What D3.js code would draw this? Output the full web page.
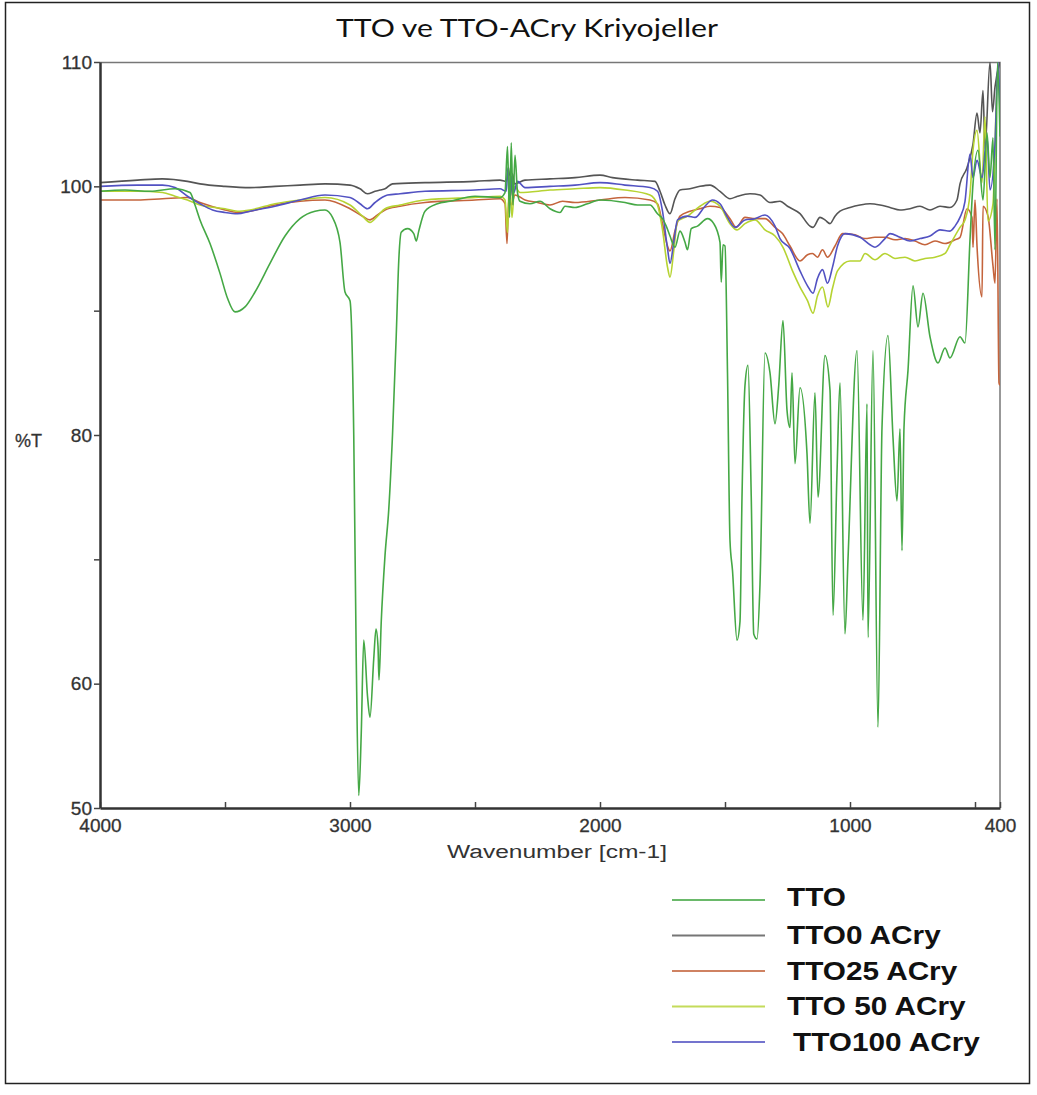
<!DOCTYPE html>
<html>
<head>
<meta charset="utf-8">
<script src="https://cdn.jsdelivr.net/npm/d3@7"></script>
<style>
  body { margin: 0; background: white; }
  #chart { width: 1037px; height: 1095px; }
</style>
</head>
<body>
<div id="chart"></div>
<script>
// spectra, [wavenumber cm-1, %T]
const tto_data = [
  [4000, 99.6], [3900, 99.7], [3800, 99.6], [3700, 99.8], [3640, 99.5], [3620, 98.5], [3600, 97.3],
  [3560, 95.4], [3520, 93], [3490, 91], [3460, 89.9], [3420, 90.3], [3380, 91.5], [3320, 93.8],
  [3260, 96], [3200, 97.4], [3140, 98], [3100, 98.1], [3070, 97.5], [3040, 95.5], [3020, 91.5],
  [3000, 90.8], [2985, 80], [2975, 62], [2965, 51], [2955, 56], [2945, 63.5], [2930, 59],
  [2920, 57.3], [2905, 62], [2896, 64.4], [2888, 63], [2884, 60.3], [2875, 65], [2860, 70.3],
  [2845, 74], [2830, 80], [2815, 88], [2805, 94], [2795, 96.3], [2770, 96.6], [2745, 96.2],
  [2735, 95.6], [2725, 96.4], [2700, 98], [2650, 98.6], [2600, 98.8], [2500, 99.2], [2400, 99.1],
  [2380, 99.5], [2370, 103.2], [2362, 97.5], [2355, 103.5], [2348, 98.5], [2340, 102.5], [2330, 99.5],
  [2320, 98.8], [2280, 98.6], [2240, 98.8], [2200, 98.2], [2160, 97.9], [2140, 98.4], [2100, 98.3],
  [2050, 98.6], [2000, 98.9], [1900, 98.7], [1850, 98.5], [1800, 98.5], [1770, 97.8], [1750, 97.4],
  [1735, 96.8], [1720, 96], [1700, 95.1], [1680, 96.4], [1660, 95.5], [1650, 94.9], [1635, 96.6],
  [1610, 96.8], [1570, 97.4], [1545, 97], [1520, 95.5], [1515, 92.3], [1508, 95.3], [1500, 95.2],
  [1490, 85], [1480, 71.5], [1470, 69.1], [1452, 63.5], [1440, 65], [1432, 75], [1420, 84],
  [1408, 85.6], [1395, 75], [1385, 64], [1372, 63.6], [1360, 68], [1340, 86.6], [1320, 85],
  [1300, 80.9], [1285, 84], [1268, 89.2], [1252, 82], [1240, 80.6], [1232, 85], [1220, 77.7],
  [1200, 83.8], [1172, 78.5], [1160, 72.9], [1140, 83.4], [1128, 75], [1100, 86.4], [1080, 83.6],
  [1068, 65.5], [1052, 77], [1040, 84.2], [1020, 64], [1008, 70], [972, 86.8], [948, 65.1],
  [932, 82.5], [928, 63.7], [908, 86.8], [888, 56.5], [872, 80.6], [848, 88], [828, 79.8],
  [812, 74.7], [800, 80.5], [792, 70.7], [784, 80.6], [768, 85.2], [748, 92], [728, 88.7],
  [708, 91.4], [680, 87.9], [648, 85.8], [620, 87], [600, 86.2], [560, 87.9], [540, 87.4],
  [520, 95.7], [508, 100.2], [488, 102.9], [468, 98.9], [452, 104.3], [440, 100.7], [428, 103.9],
  [420, 94.9], [410, 110], [400, 104]
];

const tto0_data = [
  [4000, 100.3], [3850, 100.5], [3750, 100.6], [3650, 100.4], [3600, 100.2], [3500, 100], [3400, 99.9],
  [3300, 100], [3200, 100.1], [3100, 100.2], [3000, 100.1], [2960, 99.8], [2930, 99.4], [2900, 99.6],
  [2880, 99.7], [2860, 99.8], [2830, 100.2], [2700, 100.3], [2500, 100.4], [2400, 100.5], [2375, 100.4],
  [2365, 101.5], [2358, 99.2], [2350, 101], [2342, 100.2], [2300, 100.5], [2200, 100.6], [2100, 100.7],
  [2000, 100.9], [1950, 100.7], [1850, 100.5], [1780, 100.4], [1760, 99.6], [1740, 98.5], [1720, 97.8],
  [1700, 99], [1680, 99.7], [1640, 99.8], [1600, 100], [1560, 100.1], [1520, 99.6], [1480, 99],
  [1450, 99.2], [1400, 99.4], [1360, 99.3], [1320, 98.7], [1280, 98.8], [1250, 98.4], [1200, 97.8],
  [1160, 96.8], [1148, 96.7], [1120, 97.5], [1100, 97.3], [1080, 97], [1060, 97.6], [1040, 98],
  [1000, 98.3], [960, 98.5], [920, 98.6], [880, 98.5], [840, 98.3], [800, 98.1], [760, 98.2],
  [720, 98.4], [680, 98.1], [640, 98.4], [600, 98.3], [572, 98.9], [560, 100.2], [532, 101.5],
  [508, 103.4], [492, 105.9], [480, 104.3], [468, 107.7], [460, 103], [440, 110], [430, 106],
  [420, 108], [400, 110]
];

const tto25_data = [
  [4000, 98.9], [3850, 98.9], [3750, 99], [3650, 99.1], [3600, 98.7], [3500, 98.1], [3450, 97.9],
  [3400, 98], [3300, 98.5], [3200, 98.8], [3100, 98.9], [3000, 98.2], [2950, 97.6], [2920, 97.3],
  [2890, 97.7], [2860, 98.1], [2800, 98.4], [2700, 98.7], [2500, 98.9], [2400, 99], [2380, 98.6],
  [2372, 95.4], [2365, 99], [2355, 98.5], [2340, 99.3], [2300, 98.9], [2250, 98.7], [2200, 98.5],
  [2150, 98.8], [2100, 98.7], [2000, 98.9], [1900, 99.1], [1800, 98.9], [1770, 98.6], [1750, 97],
  [1730, 95.2], [1720, 94.8], [1700, 96.4], [1680, 97.6], [1640, 98], [1600, 98.2], [1560, 98.4],
  [1520, 98.3], [1480, 97.4], [1455, 96.7], [1420, 97.5], [1380, 97.4], [1340, 97.4], [1300, 96.7],
  [1270, 96.2], [1240, 95.2], [1200, 94], [1170, 94.5], [1150, 94.6], [1130, 94.3], [1110, 94.9],
  [1090, 94.3], [1060, 95.2], [1030, 96.2], [980, 96.1], [940, 95.8], [900, 95.9], [860, 95.9],
  [820, 95.7], [780, 95.8], [740, 95.6], [700, 95.3], [660, 95.6], [620, 95.4], [580, 95.7],
  [560, 95.9], [532, 98.2], [512, 97.5], [508, 95.1], [500, 98.9], [492, 95.2], [472, 91.1],
  [468, 98.4], [448, 97.6], [428, 93.6], [420, 92.2], [412, 99], [404, 84.2], [400, 84]
];

const tto50_data = [
  [4000, 99.6], [3850, 99.6], [3750, 99.5], [3700, 99.2], [3650, 98.9], [3600, 98.5], [3500, 98.2],
  [3450, 98], [3400, 98.1], [3300, 98.6], [3200, 98.9], [3100, 99.1], [3000, 98.5], [2950, 97.6],
  [2920, 97.1], [2890, 97.6], [2860, 98.2], [2800, 98.5], [2700, 98.9], [2500, 99.1], [2400, 99.2],
  [2380, 98.9], [2370, 96.3], [2362, 100.8], [2352, 97.5], [2342, 100], [2320, 99.5], [2200, 99.7],
  [2100, 99.8], [2000, 99.9], [1900, 99.7], [1800, 99.3], [1770, 98.5], [1750, 96.5], [1730, 93.5],
  [1720, 92.7], [1705, 94.8], [1690, 97.2], [1650, 97.6], [1600, 98.4], [1560, 98.8], [1520, 98.4],
  [1480, 97], [1452, 96.5], [1420, 97], [1380, 97.3], [1340, 96.5], [1300, 96], [1268, 95.1],
  [1230, 93.2], [1200, 91.9], [1170, 90.8], [1148, 89.8], [1130, 91.2], [1110, 91.9], [1088, 90.3],
  [1070, 91.8], [1050, 93.2], [1000, 94], [960, 94], [940, 94.6], [900, 94.1], [860, 94.6],
  [820, 94.2], [780, 94.3], [740, 94], [700, 94.2], [660, 94.3], [620, 94.6], [600, 95.3],
  [560, 96.7], [540, 97.3], [520, 99.4], [508, 102.9], [492, 104.5], [472, 100.3], [460, 105.6],
  [448, 97.2], [428, 98.6], [410, 108.8], [400, 107]
];

const tto100_data = [
  [4000, 100], [3850, 100.1], [3750, 100.1], [3700, 99.9], [3650, 99.2], [3600, 98.6], [3550, 98.1],
  [3500, 97.9], [3450, 97.8], [3400, 98], [3300, 98.4], [3200, 98.9], [3100, 99.3], [3000, 99.1],
  [2960, 98.6], [2930, 98.2], [2900, 98.7], [2880, 99], [2850, 99.3], [2800, 99.4], [2700, 99.6],
  [2500, 99.7], [2400, 99.8], [2375, 99.6], [2368, 101.5], [2360, 99], [2352, 100.8], [2345, 99.5],
  [2330, 100.4], [2300, 99.9], [2200, 100], [2100, 100.1], [2000, 100.3], [1900, 100.1], [1800, 99.9],
  [1770, 99.6], [1750, 98], [1730, 95], [1720, 93.8], [1705, 95.5], [1690, 97.3], [1650, 97.6],
  [1620, 97.5], [1580, 98.4], [1550, 98.9], [1520, 98.6], [1490, 97.5], [1460, 96.7], [1420, 97.3],
  [1380, 97.4], [1340, 97.7], [1300, 96.8], [1280, 95.8], [1240, 95], [1200, 93.2], [1170, 92],
  [1148, 91.4], [1130, 92.6], [1110, 93.3], [1090, 92.2], [1070, 93.5], [1050, 95.2], [1020, 96.2],
  [960, 95.9], [920, 95.3], [900, 95.1], [860, 95.8], [840, 96.2], [800, 95.9], [760, 95.6],
  [720, 95.8], [680, 96], [640, 96.5], [600, 96.4], [580, 96.8], [560, 97.5], [540, 98.8],
  [520, 102.6], [508, 100.7], [492, 102.1], [472, 100.7], [452, 104], [440, 99.7], [420, 103.4],
  [408, 110], [400, 106]
];

const series_names = ["TTO", "TTO0 ACry", "TTO25 ACry", "TTO 50 ACry", "TTO100 ACry"];
const series_colors = ["#45a845", "#555555", "#c4643c", "#b6d332", "#5252c2"];
const x_tick_values = [4000, 3500, 3000, 2500, 2000, 1500, 1000, 500, 400];
const x_tick_labels = [4000, 3000, 2000, 1000, 400];
const y_tick_values = [50, 60, 70, 80, 90, 100, 110];
const y_tick_labels = [50, 60, 80, 100, 110];

class ftir_chart {

  constructor(container, series, labels) {
    const width = 1037, height = 1095;
    const margin = {top: 62, right: 37, bottom: 287, left: 100};
    const plot_w = width - margin.left - margin.right;
    const plot_h = height - margin.top - margin.bottom;

    const svg = d3.select(container).append("svg")
      .attr("width", width)
      .attr("height", height)
    ;

    svg.append("rect")
      .attr("width", "100%")
      .attr("height", "100%")
      .attr("fill", "white")
    ;

    // outer border of the picture
    svg.append("rect")
      .attr("x", 5.5)
      .attr("y", 2.5)
      .attr("width", 1024)
      .attr("height", 1081)
      .attr("fill", "none")
      .attr("stroke", "#222")
      .attr("stroke-width", 1.5)
    ;

    svg.append("text")
      .attr("x", 527)
      .attr("y", 37)
      .attr("text-anchor", "middle")
      .attr("font-family", "Lato, 'Open Sans', sans-serif")
      .attr("font-size", 25)
      .attr("textLength", 382)
      .attr("lengthAdjust", "spacingAndGlyphs")
      .attr("fill", "#111")
      .text(labels.title)
    ;

    const x = d3.scaleLinear().domain([4000, 400]).range([0, plot_w]);
    const y = d3.scaleLinear().domain([50, 110]).range([plot_h, 0]);

    const g = svg.append("g")
      .attr("transform", "translate(" + margin.left + "," + margin.top + ")")
    ;

    svg.append("defs").append("clipPath")
      .attr("id", "plot_clip")
      .append("rect")
      .attr("width", plot_w)
      .attr("height", plot_h)
    ;

    // top and right frame
    g.append("path")
      .attr("d", "M0,0.5H" + plot_w + "V" + plot_h)
      .attr("fill", "none")
      .attr("stroke", "#777")
      .attr("stroke-width", 1.5)
    ;

    const line = d3.line()
      .x(d => x(d[0]))
      .y(d => y(d[1]))
      .curve(d3.curveMonotoneX)
    ;

    // draw order: reference has the oil on top
    const draw_order = [1, 2, 3, 4, 0];
    g.append("g")
      .attr("clip-path", "url(#plot_clip)")
      .selectAll("path")
      .data(draw_order)
      .enter()
      .append("path")
      .attr("d", i => line(series[i]))
      .attr("fill", "none")
      .attr("stroke", i => series_colors[i])
      .attr("stroke-width", 1.6)
      .attr("stroke-linejoin", "round")
    ;

    const tick_font = "'Liberation Sans', Arial, sans-serif";

    const x_axis = g.append("g")
      .attr("transform", "translate(0," + plot_h + ")")
      .call(d3.axisBottom(x)
        .tickValues(x_tick_values)
        .tickSizeInner(-6)
        .tickSizeOuter(0)
        .tickPadding(14)
        .tickFormat(d => x_tick_labels.indexOf(d) >= 0 ? d : ""))
    ;
    x_axis.select(".domain").attr("stroke", "#333").attr("stroke-width", 2.5);
    x_axis.selectAll(".tick line").attr("stroke", "#444").attr("stroke-width", 1.5);
    x_axis.selectAll(".tick text")
      .attr("font-family", tick_font)
      .attr("font-size", 19)
      .attr("fill", "#333")
      .attr("stroke", "#333")
      .attr("stroke-width", 0.3)
      .attr("dy", "0.55em")
    ;

    const y_axis = g.append("g")
      .call(d3.axisLeft(y)
        .tickValues(y_tick_values)
        .tickSizeInner(6)
        .tickSizeOuter(0)
        .tickPadding(2)
        .tickFormat(d => y_tick_labels.indexOf(d) >= 0 ? d : ""))
    ;
    y_axis.select(".domain").attr("stroke", "#333").attr("stroke-width", 2.5);
    y_axis.selectAll(".tick line").attr("stroke", "#444").attr("stroke-width", 1.5);
    y_axis.selectAll(".tick text")
      .attr("font-family", tick_font)
      .attr("font-size", 19)
      .attr("fill", "#333")
      .attr("stroke", "#333")
      .attr("stroke-width", 0.3)
    ;

    svg.append("text")
      .attr("x", 15)
      .attr("y", 447)
      .attr("font-family", tick_font)
      .attr("font-size", 18)
      .attr("fill", "#333")
      .attr("stroke", "#333")
      .attr("stroke-width", 0.3)
      .text(labels.ytitle)
    ;

    svg.append("text")
      .attr("x", 557)
      .attr("y", 858)
      .attr("text-anchor", "middle")
      .attr("font-family", tick_font)
      .attr("font-size", 18)
      .attr("textLength", 220)
      .attr("lengthAdjust", "spacingAndGlyphs")
      .attr("fill", "#333")
      .text(labels.xtitle)
    ;

    // legend
    const legend = svg.append("g")
      .selectAll("g")
      .data(series_names)
      .enter()
      .append("g")
      .attr("transform", (d, i) => "translate(672," + (900 + i * 35.5) + ")")
    ;

    legend.append("line")
      .attr("x1", 0)
      .attr("x2", 93)
      .attr("stroke", (d, i) => series_colors[i])
      .attr("stroke-width", 2)
      .attr("opacity", 0.8)
    ;

    legend.append("text")
      .attr("x", (d, i) => i === 4 ? 121 : 115)
      .attr("y", (d, i) => i === 0 ? -3 : 0)
      .attr("dy", "0.35em")
      .attr("font-family", "'Liberation Sans', Arial, sans-serif")
      .attr("font-weight", "bold")
      .attr("font-size", 25)
      .attr("fill", "#111")
      .attr("transform", "scale(1.19,1)")
      .attr("transform-origin", (d, i) => (i === 4 ? 121 : 115) + " 0")
      .text(d => d)
    ;
  }
}

new ftir_chart("#chart",
  [tto_data, tto0_data, tto25_data, tto50_data, tto100_data],
  {title: "TTO ve TTO-ACry Kriyojeller", ytitle: "%T", xtitle: "Wavenumber [cm-1]"}
);
</script>
</body>
</html>
